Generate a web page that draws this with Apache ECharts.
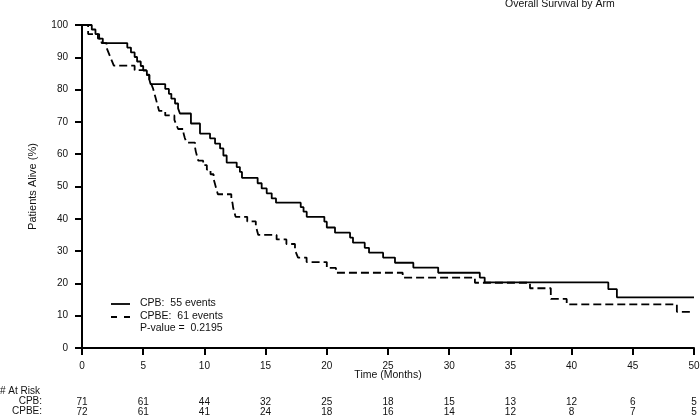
<!DOCTYPE html>
<html>
<head>
<meta charset="utf-8">
<script src="https://cdn.jsdelivr.net/npm/echarts@6/dist/echarts.min.js"></script>
<style>html,body{margin:0;padding:0;background:#fff;}#c{width:700px;height:420px;}</style>
</head>
<body>
<div id="c"></div>
<script>
// ---- data ----
const title = 'Overall Survival by Arm';
const seriesNames = ['CPB:  55 events', 'CPBE:  61 events'];
const pValueText = 'P-value =  0.2195';
const xTicks = [0, 5, 10, 15, 20, 25, 30, 35, 40, 45, 50];
const cpbAtRisk = [71, 61, 44, 32, 25, 18, 15, 13, 12, 6, 5];
const cpbeAtRisk = [72, 61, 41, 24, 18, 16, 14, 12, 8, 7, 5];

const cpbMonths = [0, 0.8, 1.1, 1.4, 1.7, 3.7, 4.0, 4.3, 4.5, 4.8, 5.0, 5.3, 5.5, 5.6, 6.8, 7.1, 7.3, 7.6, 7.85, 8.0,
  8.9, 9.64, 10.46, 10.87, 11.28, 11.55, 11.82, 12.64, 12.9, 13.07, 14.35, 14.68, 15.09, 15.5, 15.85, 17.87, 18.1, 18.36, 19.8, 20.0,
  20.67, 21.9, 22.14, 23.1, 23.45, 24.6, 25.57, 27.07, 29.1, 32.5, 32.9, 43.0, 43.7, 50.0];
const cpbSurvival = [100, 98.6, 97.2, 95.8, 94.4, 93.0, 91.5, 90.1, 88.7, 87.3, 85.9, 84.5, 83.1, 81.7, 80.2, 78.7, 77.2, 75.7, 74.2, 72.6,
  69.5, 66.4, 64.9, 63.3, 61.8, 59.6, 57.4, 56.0, 54.5, 52.7, 51.0, 49.4, 47.9, 46.3, 45.0, 43.6, 42.2, 40.6, 39.1, 37.3,
  35.7, 34.2, 32.6, 31.0, 29.5, 28.0, 26.4, 24.9, 23.3, 21.8, 20.3, 18.2, 15.7, 15.7];

const cpbeMonths = [0, 0.5, 1.3, 1.6, 2.0, 2.15, 2.3, 2.45, 2.6, 4.3, 5.3, 5.5, 5.65, 5.8, 5.9, 6.0, 6.1, 6.2, 6.3, 6.8,
  7.55, 7.7, 7.85, 8.3, 8.4, 8.55, 9.23, 9.3, 9.4, 9.5, 9.9, 10.2, 10.5, 10.75, 10.85, 10.95, 11.1, 12.2, 12.3, 12.35,
  12.45, 12.55, 13.5, 14.2, 14.3, 14.4, 15.9, 16.7, 17.4, 17.5, 17.65, 18.35, 20.0, 20.75, 26.2, 32.1, 36.6, 38.3, 39.6, 48.6, 49.8];
const cpbeSurvival = [100, 97.2, 95.8, 94.4, 93.0, 91.6, 90.2, 88.8, 87.4, 86.0, 84.6, 83.2, 81.8, 80.4, 79.0, 77.6, 76.2, 74.8, 73.4, 72.0,
  70.6, 69.2, 67.8, 66.4, 65.0, 63.6, 62.2, 60.8, 59.4, 58.0, 56.6, 55.2, 53.8, 52.4, 51.0, 49.6, 47.6, 46.2, 44.8, 43.4,
  42.0, 40.6, 39.2, 37.8, 36.4, 35.0, 33.6, 32.2, 30.8, 29.4, 28.0, 26.6, 24.8, 23.3, 21.8, 20.2, 18.5, 15.2, 13.5, 11.2, 11.2];

// ---- chart ----
const FONT = '"Liberation Sans", Arial, Helvetica, sans-serif';
const INK = '#111';
const zip = (a, b) => a.map((v, i) => [v, b[i]]);

const chart = echarts.init(document.getElementById('c'), null, {renderer: 'canvas'});
chart.setOption({
  animation: false,
  backgroundColor: '#fff',
  textStyle: {fontFamily: FONT, color: INK},
  title: {
    text: title, left: 505, top: -1, padding: 0,
    textStyle: {fontFamily: FONT, fontSize: 10.5, fontWeight: 'normal', color: INK}
  },
  grid: {left: 82, right: 6, top: 25, bottom: 72, containLabel: false, outerBoundsMode: 'none'},
  xAxis: {
    type: 'value', min: 0, max: 50, interval: 5,
    name: 'Time (Months)', nameLocation: 'middle', nameGap: 22, nameMoveOverlap: false,
    nameTextStyle: {fontFamily: FONT, fontSize: 10.5, color: INK},
    axisLine: {show: true, onZero: false, lineStyle: {color: '#000', width: 2}},
    axisTick: {show: true, length: 7, lineStyle: {color: '#000', width: 2}},
    splitLine: {show: false},
    axisLabel: {
      margin: 13, color: INK, fontFamily: FONT, fontSize: 10, hideOverlap: false,
      formatter: function (v) {
        const i = xTicks.indexOf(v);
        return '{t|' + v + '}\n{g|}\n{r|' + cpbAtRisk[i] + '}\n{r|' + cpbeAtRisk[i] + '}';
      },
      rich: {
        t: {fontFamily: FONT, fontSize: 10, lineHeight: 10, color: INK},
        g: {height: 26, lineHeight: 26},
        r: {fontFamily: FONT, fontSize: 10, lineHeight: 10, color: INK}
      }
    }
  },
  yAxis: {
    type: 'value', min: 0, max: 100, interval: 10,
    name: 'Patients Alive (%)', nameLocation: 'middle', nameGap: 44, nameRotate: 90, nameMoveOverlap: false,
    nameTextStyle: {fontFamily: FONT, fontSize: 11, color: INK},
    axisLine: {show: true, lineStyle: {color: '#000', width: 2}},
    axisTick: {show: true, length: 7, lineStyle: {color: '#000', width: 2}},
    splitLine: {show: false},
    axisLabel: {margin: 14, color: INK, fontFamily: FONT, fontSize: 10}
  },
  series: [
    {
      name: seriesNames[0], type: 'line', step: 'end', showSymbol: false, symbol: 'none',
      data: zip(cpbMonths, cpbSurvival),
      lineStyle: {color: '#000', width: 1.8, type: 'solid'},
      itemStyle: {color: '#000'}
    },
    {
      name: seriesNames[1], type: 'line', step: 'end', showSymbol: false, symbol: 'none',
      data: zip(cpbeMonths, cpbeSurvival),
      lineStyle: {color: '#000', width: 1.8, type: [8, 4]},
      itemStyle: {color: '#000'}
    }
  ],
  graphic: [
    // legend
    {type: 'line', shape: {x1: 111, y1: 304, x2: 130, y2: 304}, style: {stroke: '#000', lineWidth: 1.8}},
    {type: 'line', shape: {x1: 111, y1: 317, x2: 130, y2: 317}, style: {stroke: '#000', lineWidth: 1.8, lineDash: [6, 7]}},
    {type: 'text', left: 140, top: 298, style: {text: seriesNames[0], font: '10.5px ' + FONT, fill: INK}},
    {type: 'text', left: 140, top: 311, style: {text: seriesNames[1], font: '10.5px ' + FONT, fill: INK}},
    {type: 'text', left: 140, top: 323, style: {text: pValueText, font: '10.5px ' + FONT, fill: INK}},
    // at-risk row headers
    {type: 'text', left: 0, top: 386, style: {text: '# At Risk', font: '10px ' + FONT, fill: INK}},
    {type: 'text', right: 658, top: 396, style: {text: 'CPB:', font: '10px ' + FONT, fill: INK, align: 'right'}},
    {type: 'text', right: 658, top: 406, style: {text: 'CPBE:', font: '10px ' + FONT, fill: INK, align: 'right'}}
  ]
});
</script>
</body>
</html>
